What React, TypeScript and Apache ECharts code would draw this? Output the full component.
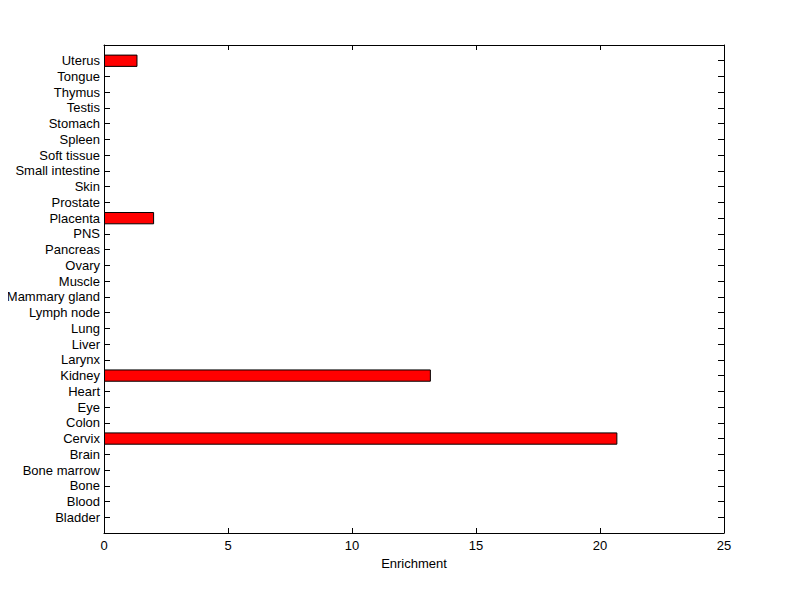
import React, { useEffect, useRef } from "react";
import * as echarts from "echarts";

const tissues = [
  "Bladder", "Blood", "Bone", "Bone marrow", "Brain", "Cervix", "Colon", "Eye", "Heart", "Kidney",
  "Larynx", "Liver", "Lung", "Lymph node", "Mammary gland", "Muscle", "Ovary", "Pancreas", "PNS", "Placenta",
  "Prostate", "Skin", "Small intestine", "Soft tissue", "Spleen", "Stomach", "Testis", "Thymus", "Tongue", "Uterus",
];
const enrichment = [
  0, 0, 0, 0, 0, 20.7, 0, 0, 0, 13.18,
  0, 0, 0, 0, 0, 0, 0, 0, 0, 2.02,
  0, 0, 0, 0, 0, 0, 0, 0, 0, 1.35,
];
const xTicks = [0, 5, 10, 15, 20, 25];

export default function App() {
  const ref = useRef<HTMLDivElement>(null);
  useEffect(() => {
    if (!ref.current) return;
    const chart = echarts.init(ref.current, null, { renderer: "svg" });
    const cats = ["", ...tissues, ""];
    const vals: (number | null)[] = [null, ...enrichment.map((v) => (v === 0 ? null : v)), null];
    const font = "Liberation Sans, Arial, Helvetica, sans-serif";
    const line = { show: true, onZero: false, lineStyle: { color: "#000", width: 1 } };
    const fs = 13;
    chart.setOption({
      animation: false,
      backgroundColor: "#fff",
      grid: { left: 104, right: 76, top: 45, bottom: 66, containLabel: false },
      xAxis: [
        {
          type: "value",
          position: "bottom",
          min: xTicks[0],
          max: xTicks[xTicks.length - 1],
          interval: 5,
          name: "Enrichment",
          nameLocation: "middle",
          nameGap: 24,
          nameTextStyle: { color: "#000", fontSize: fs, fontFamily: font },
          axisLine: line,
          axisTick: { show: true, inside: true, length: 5, lineStyle: { color: "#000" } },
          axisLabel: { color: "#000", fontSize: fs, fontFamily: font, margin: 6 },
          splitLine: { show: false },
        },
        {
          type: "value",
          position: "top",
          min: xTicks[0],
          max: xTicks[xTicks.length - 1],
          interval: 5,
          axisLine: line,
          axisTick: { show: true, inside: true, length: 5, lineStyle: { color: "#000" } },
          axisLabel: { show: false },
          splitLine: { show: false },
        },
      ],
      yAxis: [
        {
          type: "category",
          position: "left",
          data: cats,
          boundaryGap: false,
          axisLine: line,
          axisTick: { show: true, inside: true, length: 6, interval: 0, lineStyle: { color: "#000" } },
          axisLabel: { color: "#000", fontSize: fs, fontFamily: font, margin: 4, interval: 0 },
          splitLine: { show: false },
        },
        {
          type: "category",
          position: "right",
          data: cats,
          boundaryGap: false,
          axisLine: line,
          axisTick: { show: true, inside: true, length: 6, interval: 0, lineStyle: { color: "#000" } },
          axisLabel: { show: false },
          splitLine: { show: false },
        },
      ],
      series: [
        {
          type: "bar",
          xAxisIndex: 0,
          yAxisIndex: 0,
          data: vals,
          barWidth: "78%",
          itemStyle: { color: "#ff0000", borderColor: "#000", borderWidth: 1 },
        },
      ],
    });
    return () => chart.dispose();
  }, []);
  return <div ref={ref} style={{ width: 800, height: 599, margin: -8 }} />;
}
